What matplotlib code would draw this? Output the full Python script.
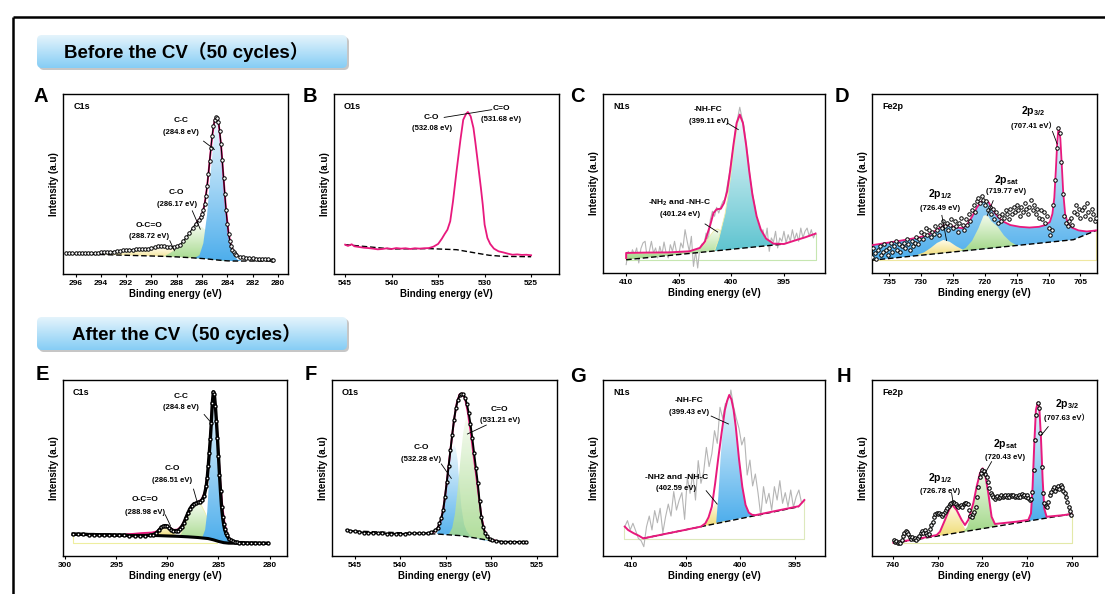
import numpy as np
import matplotlib
matplotlib.use("Agg")
import matplotlib.pyplot as plt
from matplotlib.patches import Polygon, FancyBboxPatch
from matplotlib.colors import LinearSegmentedColormap

plt.rcParams['font.family'] = ['Liberation Sans', 'Noto Sans CJK SC', 'DejaVu Sans']
plt.rcParams['mathtext.fontset'] = 'custom'
plt.rcParams['mathtext.rm'] = 'Liberation Sans:bold'
plt.rcParams['mathtext.bf'] = 'Liberation Sans:bold'
plt.rcParams['mathtext.it'] = 'Liberation Sans:bold'

# ---------------- data (binding energy in eV, intensity in a.u. 0-100) ----------------
# A  C1s before
a_x = [296.75, 296.5, 296.25, 296.0, 295.75, 295.5, 295.25, 295.0, 294.75, 294.5, 294.25, 294.0,
       293.75, 293.5, 293.25, 293.0, 292.75, 292.5, 292.25, 292.0, 291.75, 291.5, 291.25, 291.0,
       290.75, 290.5, 290.25, 290.0, 289.75, 289.5, 289.25, 289.0, 288.75, 288.5, 288.25, 288.0,
       287.75, 287.5, 287.25, 287.0, 286.75, 286.5, 286.25,
       286.1, 286.0, 285.9, 285.8, 285.7, 285.6, 285.5, 285.4, 285.3, 285.2, 285.1, 285.0, 284.9,
       284.8, 284.7, 284.6, 284.5, 284.4, 284.3, 284.2, 284.1, 284.0, 283.9, 283.8, 283.7, 283.6,
       283.5, 283.4, 283.3,
       283.0, 282.75, 282.5, 282.25, 282.0, 281.75, 281.5, 281.25, 281.0, 280.75, 280.5, 280.4]
a_y = [11.4, 11.4, 11.4, 11.4, 11.4, 11.4, 11.6, 11.6, 11.6, 11.8, 11.8, 12.0,
       12.0, 12.2, 12.4, 12.5, 12.7, 12.9, 13.1, 13.3, 13.5, 13.5, 13.7, 13.7,
       13.7, 13.8, 14.0, 14.4, 14.9, 15.3, 15.5, 15.3, 14.9, 14.8, 14.9, 15.5,
       16.2, 18.1, 20.3, 22.7, 25.5, 28.0, 29.9,
       31.7, 33.2, 35.4, 38.7, 43.4, 48.9, 55.4, 62.7, 70.1, 76.6, 82.1, 85.6, 87.1,
       86.7, 84.5, 79.3, 72.0, 63.1, 53.5, 44.3, 35.4, 28.0, 22.5, 18.5, 15.5, 13.5,
       12.2, 11.3, 10.7,
       9.6, 9.2, 9.0, 8.9, 8.7, 8.6, 8.5, 8.4, 8.3, 8.1, 7.9, 7.7]
a_env_x = [286.4, 286.2, 286.0, 285.8, 285.6, 285.4, 285.2, 285.0, 284.85, 284.7, 284.5, 284.3,
           284.1, 283.9, 283.7, 283.5, 283.2]
a_env_y = [28.8, 30.6, 33.0, 38.5, 48.5, 62.5, 76.5, 85.5, 87.2, 84.5, 72.0, 53.5,
           35.5, 22.5, 15.5, 12.2, 10.4]
a_base_x = [296.75, 294.0, 292.0, 290.0, 289.0, 288.0, 287.0, 286.0, 285.5, 285.0, 284.5, 284.0,
            283.5, 283.0, 282.0, 280.4]
a_base_y = [11.1, 10.8, 10.4, 10.0, 9.8, 9.5, 9.1, 8.6, 8.3, 7.9, 7.6, 7.3, 7.2, 7.2, 7.2, 7.2]
a_yel_x = [294.0, 293.0, 292.0, 291.0, 290.0, 289.0, 288.0, 287.0, 286.0, 285.0, 284.0, 283.0]
a_yel_y = [10.8, 11.3, 12.0, 12.9, 13.7, 14.2, 13.9, 13.0, 11.5, 9.4, 7.9, 7.2]
a_grn_x = [289.0, 288.5, 288.0, 287.5, 287.0, 286.6, 286.3, 286.0, 285.6, 285.2, 284.8, 284.4,
           284.0, 283.5, 283.0]
a_grn_y = [9.8, 11.8, 14.2, 18.0, 22.5, 25.6, 26.8, 26.2, 23.5, 19.5, 15.2, 11.8, 9.2, 7.6, 7.2]
a_blu_x = [286.6, 286.2, 285.9, 285.6, 285.4, 285.2, 285.0, 284.85, 284.7, 284.5, 284.3, 284.1,
           283.9, 283.7, 283.5, 283.2, 282.8]
a_blu_y = [8.8, 10.5, 17.0, 33.0, 50.0, 65.0, 80.0, 86.0, 84.5, 72.0, 53.0, 35.0,
           22.0, 14.5, 10.5, 8.0, 7.2]

# B  O1s before
b_x = [545.0, 544.7, 544.3, 544.0, 543.5, 543.0, 542.5, 542.0, 541.5, 541.0, 540.5, 540.0,
       539.5, 539.0, 538.5, 538.0, 537.5, 537.0, 536.5, 536.0, 535.5, 535.0, 534.6, 534.3,
       534.0, 533.7, 533.4, 533.0, 532.6, 532.3, 532.0, 531.8, 531.5, 531.2, 531.0, 530.7,
       530.4, 530.2, 530.0, 529.7, 529.4, 529.0, 528.5, 528.0, 527.5, 527.0, 526.5, 526.0,
       525.5, 525.0]
b_y = [16.3, 15.6, 16.5, 15.4, 15.0, 14.6, 14.4, 14.1, 13.7, 13.9, 14.3, 13.9,
       14.4, 14.1, 14.3, 13.9, 14.3, 14.1, 14.3, 14.4, 15.2, 16.7, 19.6, 22.2,
       24.6, 29.3, 40.4, 58.0, 74.6, 85.7, 88.9, 90.0, 87.6, 81.1, 73.3, 60.7,
       47.8, 38.5, 27.4, 20.0, 16.7, 14.1, 12.6, 12.0, 11.3, 10.7, 10.9, 10.6,
       10.7, 10.4]
b_base_x = [545.0, 540.0, 536.0, 533.0, 531.0, 529.5, 528.0, 525.0]
b_base_y = [16.3, 13.9, 14.1, 13.5, 11.7, 10.4, 9.8, 9.6]

# C  N1s before
c_raw_x = np.linspace(410.0, 392.0, 91)
c_raw_y = [4.7, 12.1, 8.4, 13.0, 10.2, 14.0, 5.6, 13.6, 16.8, 17.7,
           8.4, 12.1, 17.7, 11.2, 14.0, 8.4, 14.9, 10.2, 17.3, 11.2,
           8.4, 15.8, 12.1, 17.7, 11.2, 10.2, 16.8, 14.0, 24.2, 17.7,
           12.1, 20.5, 3.7, 12.1, 2.8, 14.0, 16.2, 15.8, 22.3, 17.7,
           29.8, 34.5, 31.7, 36.7, 33.5, 37.2, 40.0, 41.0, 48.4, 54.9,
           63.3, 70.8, 80.1, 86.6, 92.6, 87.0, 81.9, 72.6, 63.3, 52.1,
           44.7, 38.2, 30.7, 26.1, 18.6, 24.2, 17.7, 25.1, 12.1, 19.6,
           17.3, 23.3, 14.0, 19.6, 17.7, 23.3, 16.8, 21.4, 17.7, 24.2,
           18.6, 22.3, 17.7, 25.1, 19.6, 23.3, 25.1, 20.5, 24.2, 19.6, 22.3]
c_env_x = [410.0, 410.0, 408.0, 406.0, 404.0, 403.0, 402.5, 402.0, 401.7, 401.4, 401.0, 400.7,
           400.4, 400.1, 399.8, 399.5, 399.2, 398.9, 398.6, 398.3, 398.0, 397.6, 397.2, 396.7,
           396.0, 395.0, 394.0, 393.0, 392.0]
c_env_y = [8.4, 11.2, 11.4, 11.5, 12.1, 14.0, 17.7, 27.0, 33.5, 35.6, 35.9, 39.1,
           45.6, 57.7, 71.7, 83.8, 88.5, 83.8, 71.7, 56.8, 43.8, 31.7, 24.2, 19.2,
           16.4, 16.2, 18.1, 19.9, 22.0]
c_base_x = [410.0, 395.3]
c_base_y = [7.4, 16.0]
c_grn_x = [410.0, 410.0, 406.0, 404.0, 403.0, 402.5, 402.0, 401.6, 401.3, 401.0, 400.6, 400.2,
           399.8, 399.4]
c_grn_y = [7.4, 10.8, 11.2, 12.2, 13.8, 16.5, 21.0, 24.0, 24.6, 23.5, 20.0, 16.5, 14.5, 13.6]
c_tea_x = [401.6, 401.5, 401.2, 400.9, 400.6, 400.3, 400.0, 399.7, 399.4, 399.2, 398.9, 398.6,
           398.3, 398.0, 397.6, 397.2, 396.7, 396.0, 395.3]
c_tea_y = [12.3, 14.0, 19.0, 26.0, 33.0, 44.0, 57.0, 72.0, 84.0, 87.5, 83.5, 71.5,
           56.5, 43.5, 31.5, 24.0, 19.0, 16.3, 16.0]

# D  Fe2p before
d_x = np.linspace(738.0, 702.5, 143)
d_y = [12, 9, 14, 11, 8, 13, 15, 10, 12, 16, 13, 10, 14, 17, 12, 15, 18, 13, 16, 12,
       15, 17, 14, 19, 16, 13, 18, 15, 17, 20, 16, 19, 23, 19, 22, 25, 21, 24, 20, 23,
       22, 26, 24, 21, 27, 25, 29, 26, 28, 24, 27, 30, 25, 29, 26, 23, 28, 31, 27, 24,
       30, 27, 33, 29, 35, 38, 34, 40, 42, 39, 43, 41, 38, 40, 35, 37, 33, 36, 30, 34,
       28, 32, 29, 33, 31, 35, 33, 30, 36, 33, 37, 34, 38, 35, 32, 37, 34, 39, 36, 33,
       37, 41, 35, 38, 33, 36, 31, 35, 30, 34, 28, 32, 25, 21, 24, 38, 52, 70, 81, 78,
       62, 44, 32, 28, 26, 29, 31, 27, 34, 38, 33, 36, 31, 35, 37, 32, 39, 34, 30, 36,
       33, 29, 31]
d_env_x = [737.8, 736.0, 734.0, 732.0, 730.0, 728.5, 727.5, 726.5, 725.5, 724.5, 723.5, 722.8,
           722.0, 721.3, 720.6, 720.0, 719.4, 718.7, 718.0, 717.2, 716.0, 714.5, 713.0, 711.5,
           710.5, 709.8, 709.4, 709.1, 708.85, 708.65, 708.5, 708.35, 708.15, 707.95, 707.7,
           707.4, 707.0, 706.3, 705.3, 704.0, 702.5]
d_env_y = [15.5, 16.5, 17.6, 18.8, 20.2, 22.0, 24.2, 26.5, 26.6, 25.5, 25.0, 27.0,
           31.5, 36.3, 39.8, 40.4, 39.5, 35.0, 31.5, 28.9, 26.8, 25.8, 25.4, 25.8,
           26.8, 28.5, 33.0, 42.0, 58.0, 72.0, 79.0, 80.5, 75.0, 62.0, 45.0,
           33.0, 28.0, 25.3, 23.8, 23.2, 23.8]
d_base_x = [737.8, 706.1, 702.5]
d_base_y = [7.1, 18.6, 23.8]
d_yel_x = [731.0, 729.5, 728.5, 727.5, 726.5, 725.5, 724.5, 723.5, 722.5]
d_yel_y = [9.6, 11.6, 14.0, 16.8, 18.5, 17.4, 15.0, 13.1, 12.7]
d_grn_x = [724.0, 723.0, 722.0, 721.0, 720.2, 719.6, 719.0, 718.0, 717.0, 716.0, 715.0]
d_grn_y = [12.1, 14.0, 18.0, 25.0, 32.0, 32.5, 29.0, 26.0, 21.0, 17.5, 15.4]

# E  C1s after
e_x = [299.2, 298.7, 298.2, 297.7, 297.2, 296.7, 296.2, 295.7, 295.2, 294.7, 294.2, 293.7,
       293.2, 292.7, 292.2, 291.7, 291.4, 291.1, 290.8, 290.6, 290.4, 290.2, 290.0, 289.8,
       289.6, 289.4, 289.2, 289.0, 288.8, 288.6, 288.4, 288.2, 288.0, 287.8, 287.6, 287.4,
       287.2, 287.0, 286.8, 286.6, 286.4, 286.2, 286.1, 286.0, 285.9, 285.8, 285.7, 285.6,
       285.5, 285.4, 285.3, 285.2, 285.1, 285.0, 284.9, 284.8, 284.7, 284.6, 284.5, 284.4,
       284.3, 284.2, 284.0, 283.8, 283.6, 283.4, 283.2, 283.0, 282.6, 282.2, 281.8, 281.4,
       281.0, 280.6, 280.2]
e_y = [12.5, 12.4, 12.4, 12.2, 12.2, 12.0, 12.0, 12.0, 11.8, 11.8, 11.8, 11.6,
       11.6, 11.6, 11.6, 11.8, 12.2, 12.9, 14.8, 16.2, 16.9, 17.3, 16.9, 16.0,
       15.0, 14.4, 14.3, 14.4, 15.2, 16.7, 18.6, 21.5, 24.3, 26.8, 28.5, 29.7,
       30.0, 30.4, 30.8, 31.9, 34.2, 39.5, 44.3, 51.0, 58.6, 66.2, 75.7, 87.1,
       93.3, 91.8, 85.2, 76.6, 67.1, 56.7, 46.2, 36.7, 28.1, 22.4, 18.3, 15.2,
       13.3, 11.8, 9.9, 8.9, 8.4, 8.0, 7.8, 7.6, 7.6, 7.4, 7.4, 7.4,
       7.2, 7.2, 7.2]
e_env_x = [294.0, 292.5, 291.5, 291.0, 290.6, 290.2, 289.8, 289.4, 289.0, 288.6, 288.2, 287.8,
           287.4, 287.0, 286.6, 286.3, 286.0, 285.8, 285.65, 285.5, 285.35, 285.2, 285.0, 284.8,
           284.6, 284.4, 284.2, 284.0, 283.7, 283.3, 282.8, 282.0]
e_env_y = [12.2, 13.0, 13.3, 14.0, 16.0, 17.0, 16.2, 14.8, 15.0, 17.0, 21.5, 26.5,
           29.5, 30.5, 32.5, 37.0, 50.0, 66.0, 82.0, 92.5, 88.0, 77.0, 58.0, 40.0,
           27.0, 18.5, 13.5, 10.5, 8.6, 7.8, 7.5, 7.3]
e_base_x = [299.2, 294.0, 292.0, 291.0, 290.0, 289.0, 288.0, 287.0, 286.0, 285.5, 285.0, 284.5,
            284.0, 282.0, 280.2]
e_base_y = [12.3, 11.9, 11.7, 11.6, 11.4, 11.2, 10.9, 10.5, 9.9, 9.2, 8.3, 7.6, 7.3, 7.2, 7.2]
e_yel_x = [291.2, 290.8, 290.5, 290.2, 289.9, 289.6, 289.3, 289.0]
e_yel_y = [11.6, 14.0, 16.2, 17.0, 16.0, 14.2, 12.5, 11.2]
e_grn_x = [288.8, 288.4, 288.0, 287.6, 287.2, 286.9, 286.6, 286.3, 286.0, 285.6, 285.2, 284.8,
           284.5]
e_grn_y = [11.1, 16.0, 22.0, 27.5, 29.5, 30.0, 28.0, 24.5, 20.0, 15.0, 11.0, 8.6, 7.6]
e_blu_x = [286.6, 286.3, 286.1, 285.9, 285.7, 285.55, 285.45, 285.3, 285.1, 284.9, 284.7, 284.5,
           284.3, 284.0, 283.6]
e_blu_y = [10.2, 15.0, 25.0, 45.0, 70.0, 90.0, 93.0, 87.0, 70.0, 50.0, 32.0, 20.0,
           13.0, 9.0, 7.2]

# F  O1s after
f_x = [545.9, 545.5, 545.0, 544.5, 544.0, 543.5, 543.0, 542.5, 542.0, 541.5, 541.0, 540.5,
       540.0, 539.5, 539.0, 538.5, 538.0, 537.5, 537.0, 536.6, 536.2, 535.9,
       535.7, 535.5, 535.3, 535.1, 534.9, 534.7, 534.5, 534.3, 534.1, 533.9, 533.7, 533.5,
       533.3, 533.1, 532.9, 532.7, 532.5, 532.3, 532.1, 531.9, 531.7, 531.5, 531.3, 531.1,
       530.9, 530.7, 530.5, 530.2, 529.9, 529.5, 529.0, 528.5, 528.0, 527.5, 527.0, 526.5, 526.2]
f_y = [14.8, 14.4, 14.0, 13.6, 13.3, 13.2, 13.0, 12.9, 12.8, 12.7, 12.6, 12.6,
       12.5, 12.6, 12.8, 12.9, 12.8, 12.9, 13.0, 13.5, 14.5, 16.0,
       18.5, 21.5, 26.0, 33.5, 42.0, 51.0, 60.0, 69.0, 77.5, 84.0, 88.5, 91.2,
       92.3, 92.0, 90.0, 86.5, 81.5, 75.0, 67.0, 58.5, 50.0, 41.5, 31.0, 22.0,
       16.5, 13.0, 11.2, 9.8, 9.0, 8.5, 8.2, 8.0, 8.1, 7.9, 8.0, 8.1, 8.0]
f_env_x = [536.5, 536.0, 535.6, 535.3, 535.0, 534.7, 534.4, 534.1, 533.8, 533.5, 533.2, 532.9,
           532.6, 532.3, 532.0, 531.7, 531.4, 531.1, 530.8, 530.5, 530.1, 529.5]
f_env_y = [13.2, 14.8, 19.5, 26.0, 37.5, 51.0, 64.5, 77.5, 87.0, 91.8, 92.3, 89.5,
           82.0, 71.5, 59.0, 47.0, 34.5, 22.5, 15.0, 11.5, 9.5, 8.6]
f_base_x = [545.9, 540.0, 536.0, 533.5, 531.5, 530.0, 528.5, 526.2]
f_base_y = [14.4, 13.2, 12.5, 11.6, 10.0, 8.6, 8.0, 8.0]
f_blu_x = [536.0, 535.6, 535.3, 535.0, 534.7, 534.4, 534.1, 533.9, 533.7, 533.5, 533.3, 533.0,
           532.7, 532.3, 531.8, 531.0, 530.0, 529.0]
f_blu_y = [12.5, 18.0, 24.5, 37.0, 51.0, 60.0, 63.0, 61.0, 54.0, 40.0, 28.0, 18.0,
           14.0, 11.5, 10.2, 9.0, 8.6, 8.2]
f_grn_x = [534.8, 534.6, 534.3, 534.0, 533.7, 533.4, 533.1, 532.85, 532.6, 532.3, 532.0, 531.7,
           531.4, 531.1, 530.8, 530.5, 530.2, 529.8]
f_grn_y = [12.1, 13.0, 16.0, 24.0, 38.0, 55.0, 70.0, 77.0, 78.0, 74.0, 63.0, 49.5,
           36.0, 24.0, 16.0, 12.0, 10.0, 8.5]

# G  N1s after
g_x = np.linspace(410.6, 394.1, 67)
g_y = [16.7, 20.1, 14.8, 18.6, 14.4, 10.0, 8.7, 5.3, 16.7, 22.7,
       14.8, 25.8, 18.9, 27.1, 13.3, 22.3, 29.5, 22.7, 36.6, 26.1,
       31.8, 36.0, 20.8, 44.7, 35.6, 47.0, 31.8, 54.2, 41.3, 47.9,
       61.7, 50.8, 58.0, 71.2, 64.0, 84.5, 78.2, 86.7, 83.0, 94.3,
       84.8, 78.2, 72.5, 63.1, 67.4, 46.0, 54.5, 39.8, 46.6, 35.6,
       22.7, 39.4, 29.9, 35.6, 26.1, 39.4, 31.8, 42.8, 29.9, 36.0,
       28.0, 37.5, 27.7, 33.7, 37.5, 29.9, 31.4]
g_env_x = [410.6, 410.3, 409.8, 409.3, 408.9, 407.0, 405.0, 403.6, 403.2, 402.9, 402.6, 402.3,
           402.0, 401.7, 401.4, 401.2, 401.0, 400.8, 400.6, 400.4, 400.1, 399.8, 399.5, 399.2,
           398.9, 398.6, 396.5, 394.6, 394.1]
g_env_y = [16.7, 14.8, 13.0, 11.5, 10.0, 12.4, 14.9, 16.7, 18.5, 22.0, 28.0, 41.0,
           56.0, 70.0, 83.0, 88.0, 91.5, 89.0, 83.0, 73.5, 55.0, 39.4, 29.0, 24.6,
           23.4, 23.2, 25.9, 28.3, 31.8]
g_base_x = [408.9, 394.6]
g_base_y = [10.0, 28.0]
g_yel_x = [403.4, 403.2, 402.9, 402.6, 402.3, 402.0, 401.7, 401.4, 401.2]
g_yel_y = [16.9, 18.5, 21.0, 26.0, 30.0, 30.5, 27.0, 22.0, 19.6]
g_blu_x = [402.2, 402.0, 401.8, 401.6, 401.4, 401.2, 401.0, 400.8, 400.6, 400.4, 400.1, 399.8,
           399.5, 399.2, 398.9, 398.6]
g_blu_y = [18.9, 34.0, 55.0, 71.0, 82.0, 88.0, 91.5, 89.0, 83.0, 73.5, 55.0, 39.4,
           29.0, 24.6, 23.4, 23.0]

# H  Fe2p after
h_x = np.linspace(739.8, 700.2, 133)
h_y = [9.1, 8.0, 8.7, 7.6, 8.1, 7.4, 9.1, 11.4, 13.3, 14.4,
       13.8, 12.5, 11.0, 9.8, 10.6, 9.5, 10.0, 9.1, 10.2, 11.4,
       12.9, 14.0, 13.3, 14.8, 12.9, 11.7, 12.5, 15.2, 17.4, 19.5,
       22.3, 23.9, 24.6, 24.1, 24.6, 23.7, 22.7, 23.9, 25.2, 26.1,
       27.1, 28.4, 29.5, 30.3, 30.9, 30.3, 29.5, 28.6, 27.7, 28.4,
       29.0, 28.0, 29.4, 29.9, 30.3, 29.5, 26.1, 22.7, 22.0, 23.9,
       25.2, 28.0, 33.7, 39.4, 45.1, 47.3, 48.9, 48.3, 46.6, 44.7,
       42.2, 38.4, 36.0, 34.7, 33.3, 32.2, 33.3, 34.1, 32.8, 33.7,
       34.7, 33.3, 34.1, 34.8, 33.7, 34.5, 33.5, 34.7, 33.9, 34.8,
       33.7, 34.3, 33.3, 34.5, 33.7, 35.0, 34.1, 34.8, 33.3, 34.5,
       32.9, 31.8, 32.2, 36.6, 48.9, 65.9, 80.1, 87.1, 83.9, 69.7,
       50.8, 35.6, 30.3, 28.4, 27.7, 30.9, 34.7, 36.6, 37.9, 39.4,
       37.1, 38.6, 39.8, 38.3, 40.3, 39.0, 36.9, 35.6, 33.3, 30.9,
       28.0, 25.8, 23.3]
h_env_x = [739.85, 734.66, 730.2, 729.47, 728.35, 727.6, 726.87, 725.76, 724.64, 723.9,
           723.16, 722.05, 721.3, 720.56, 719.97, 719.45, 718.7, 717.97, 717.23, 712.4,
           709.8, 709.2, 708.84, 708.46, 708.1, 707.7, 707.36, 706.99, 706.6, 706.25,
           705.73, 702.0, 700.16]
h_env_y = [7.6, 9.6, 11.9, 13.8, 20.5, 25.2, 29.5, 26.1, 20.5, 17.6,
           20.5, 29.9, 39.4, 47.0, 49.8, 47.0, 35.6, 22.3, 18.2, 19.5,
           20.5, 24.2, 39.4, 64.0, 83.0, 87.1, 84.8, 67.8, 43.2, 27.1,
           22.3, 23.2, 23.9]
h_base_x = [739.85, 700.16]
h_base_y = [7.2, 23.9]
h_yel_x = [730.4, 729.3, 728.5, 727.7, 726.9, 726.1, 725.3, 724.5, 723.6]
h_yel_y = [11.2, 14.5, 20.0, 25.5, 29.0, 27.5, 23.0, 18.5, 14.0]
h_grn_x = [724.3, 723.4, 722.6, 721.8, 721.0, 720.3, 719.8, 719.2, 718.6, 718.0, 717.3, 716.5]
h_grn_y = [13.7, 16.5, 23.0, 32.0, 42.0, 48.5, 49.5, 44.0, 33.0, 23.0, 18.5, 17.0]
h_blu_x = [709.8, 709.2, 708.85, 708.45, 708.1, 707.7, 707.35, 707.0, 706.6, 706.25, 705.9, 705.5]
h_blu_y = [19.9, 24.0, 39.0, 64.0, 83.0, 87.0, 84.5, 68.0, 43.0, 27.0, 22.5, 21.7]

# ---------------- styling ----------------
PINK = '#e8197d'
BLUE = ('#eef8fd', '#4eaeec')
GREEN = ('#f4fbee', '#a3d88a')
YELLOW = ('#fffbe8', '#f0dc78')
TEAL = ('#f0fafb', '#5fc4d0')

W, H = 1105, 594
fig = plt.figure(figsize=(W / 100, H / 100), dpi=100)

over = fig.add_axes([0, 0, 1, 1])
over.set_xlim(0, W)
over.set_ylim(H, 0)
over.axis('off')
over.plot([13, 13], [16.5, H], color='k', lw=1.8, solid_capstyle='butt')
over.plot([13, W], [16.5, 16.5], color='k', lw=1.8, solid_capstyle='butt')

bcmap = LinearSegmentedColormap.from_list('banner', ['#e4f4fc', '#86cdf5'])
for top, txt in [(35, 'Before the CV（50 cycles）'), (317, 'After the CV（50 cycles）')]:
    sh = FancyBboxPatch((39, top + 2), 310, 33, boxstyle='round,pad=0,rounding_size=5',
                        fc='#a0a0a0', ec='none', alpha=0.6, zorder=1)
    over.add_patch(sh)
    bx = FancyBboxPatch((37, top), 310, 33, boxstyle='round,pad=0,rounding_size=5',
                        fc='none', ec='none', zorder=2)
    over.add_patch(bx)
    im = over.imshow(np.linspace(0, 1, 64)[:, None], cmap=bcmap, aspect='auto',
                     extent=(37, 347, top + 33, top), origin='upper', zorder=3)
    im.set_clip_path(bx)
    over.text(186, top + 16.5, txt, ha='center', va='center', fontsize=13.5,
              fontweight='bold', zorder=4)

for lt, (lx, ly) in zip('ABCDEFGH', [(41, 97), (310, 97), (577, 97), (842, 97),
                                      (42, 374), (311, 375), (578, 376), (844, 376)]):
    over.text(lx, ly, lt, ha='center', va='center', fontsize=14.5, fontweight='bold')
over.set_xlim(0, W)
over.set_ylim(H, 0)


def add_ax(l, t, r, b):
    return fig.add_axes([l / W, 1 - b / H, (r - l) / W, (b - t) / H])


def comp(ax, cx, cy, bx, by, cols, edge=None, z=2, alpha=1.0):
    cx, cy, bx, by = map(np.asarray, (cx, cy, bx, by))
    lo, hi = cx.min(), cx.max()
    sel = (bx >= lo) & (bx <= hi)
    px = np.concatenate([cx, bx[sel][::-1]])
    py = np.concatenate([cy, by[sel][::-1]])
    poly = Polygon(np.column_stack([px, py]), closed=True, fc='none', ec='none')
    ax.add_patch(poly)
    cmap = LinearSegmentedColormap.from_list('c', list(cols))
    im = ax.imshow(np.linspace(0, 1, 128)[:, None], cmap=cmap, aspect='auto',
                   extent=(lo, hi, py.min(), py.max()), origin='upper', zorder=z, alpha=alpha)
    im.set_clip_path(poly)
    if edge:
        ax.plot(cx, cy, color=edge, lw=0.6, zorder=z + 0.1)


def setup(ax, xlim, ticks, name):
    ax.set_xlim(*xlim)
    ax.set_ylim(0, 100)
    ax.set_xticks(ticks)
    ax.set_yticks([])
    ax.tick_params(axis='x', direction='out', length=2.5, width=0.8, labelsize=6, pad=1.5)
    for lab in ax.get_xticklabels():
        lab.set_fontweight('bold')
    for s in ax.spines.values():
        s.set_linewidth(1.0)
    ax.set_xlabel('Binding energy (eV)', fontsize=7, fontweight='bold', labelpad=2)
    ax.set_ylabel('Intensity (a.u)', fontsize=7, fontweight='bold', labelpad=3)
    ax.text(0.045, 0.93, name, transform=ax.transAxes, fontsize=6.5, fontweight='bold',
            va='center', ha='left')


def label(ax, x, y1, y2, name, value, size=6.0, vsize=5.5):
    ax.text(x, y1, name, ha='center', va='center', fontsize=size, fontweight='bold', zorder=6)
    ax.text(x, y2, value, ha='center', va='center', fontsize=vsize, fontweight='bold', zorder=6)


def leader(ax, x1, y1, x2, y2):
    ax.plot([x1, x2], [y1, y2], color='k', lw=0.6, zorder=6)


def circles(ax, x, y, ms=2.4, mew=0.7, line=None, z=4):
    if line:
        ax.plot(x, y, '-', color='k', lw=line, zorder=z - 0.1)
    ax.plot(x, y, 'o', ms=ms, mfc='white', mec='k', mew=mew, ls='none', zorder=z)


# ---------------- A ----------------
ax = add_ax(63, 94, 288, 274)
comp(ax, a_yel_x, a_yel_y, a_base_x, a_base_y, YELLOW, z=2)
comp(ax, a_grn_x, a_grn_y, a_base_x, a_base_y, GREEN, z=2.2)
comp(ax, a_blu_x, a_blu_y, a_base_x, a_base_y, BLUE, z=2.4)
ax.plot(a_base_x, a_base_y, '--', color='k', lw=1.0, dashes=(4, 2), zorder=3)
ax.plot(a_env_x, a_env_y, color=PINK, lw=1.4, zorder=3.5)
circles(ax, a_x, a_y, ms=2.5, mew=0.7, line=0.8)
label(ax, 287.66, 85.4, 78.4, 'C-C', '(284.8 eV)')
leader(ax, 285.88, 73.8, 285.02, 69.2)
label(ax, 288.0, 45.2, 38.4, 'C-O', '(286.17 eV)')
leader(ax, 286.77, 35.1, 286.14, 24.9)
label(ax, 290.2, 26.8, 20.7, 'O-C=O', '(288.72 eV)')
leader(ax, 288.55, 18.5, 288.18, 12.9)
setup(ax, (297.0, 279.2), [296, 294, 292, 290, 288, 286, 284, 282, 280], 'C1s')

# ---------------- B ----------------
ax = add_ax(334, 94, 559, 274)
ax.plot(b_base_x, b_base_y, '--', color='k', lw=1.0, dashes=(4, 2), zorder=3)
ax.plot(b_x, b_y, color=PINK, lw=1.3, zorder=4)
label(ax, 535.68, 86.7, 80.6, 'C-O', '(532.08 eV)')
label(ax, 528.2, 91.9, 85.7, 'C=O', '(531.68 eV)')
leader(ax, 534.35, 87.0, 529.23, 91.3)
setup(ax, (546.2, 522.0), [545, 540, 535, 530, 525], 'O1s')

# ---------------- C ----------------
ax = add_ax(603, 94, 825, 273)
ax.plot([410.0, 392.0, 392.0], [7.4, 7.4, 22.0], color='#c6e6b0', lw=0.8, zorder=1.5)
ax.plot(c_raw_x, c_raw_y, color='#b5b5b5', lw=0.8, zorder=1.8)
comp(ax, c_grn_x, c_grn_y, c_base_x, c_base_y, GREEN, edge='#eeeea8', z=2)
comp(ax, c_tea_x, c_tea_y, c_base_x, c_base_y, TEAL, edge='#eeeea8', z=2.2)
ax.plot(c_base_x, c_base_y, '--', color='k', lw=1.0, dashes=(4, 2), zorder=3)
ax.plot(c_env_x, c_env_y, color=PINK, lw=1.4, zorder=4)
label(ax, 402.18, 91.2, 84.7, '-NH-FC', '(399.11 eV)')
leader(ax, 400.38, 83.8, 399.34, 80.1)
label(ax, 404.87, 39.1, 32.6, '-NH$_2$ and -NH-C', '(401.24 eV)')
leader(ax, 402.5, 27.4, 401.3, 22.9)
setup(ax, (412.2, 391.1), [410, 405, 400, 395], 'N1s')

# ---------------- D ----------------
ax = add_ax(872, 94, 1097, 273)
ax.plot([737.8, 702.6, 702.6], [7.4, 7.4, 23.8], color='#efe7a0', lw=0.8, zorder=1.5)
comp(ax, d_env_x, d_env_y, d_base_x, d_base_y, BLUE, z=2)
comp(ax, d_yel_x, d_yel_y, d_base_x, d_base_y, YELLOW, z=2.2)
comp(ax, d_grn_x, d_grn_y, d_base_x, d_base_y, GREEN, z=2.3)
ax.plot(d_base_x, d_base_y, '--', color='k', lw=1.0, dashes=(4, 2), zorder=3)
ax.plot(d_env_x, d_env_y, color=PINK, lw=1.3, zorder=3.5)
circles(ax, d_x, d_y, ms=2.5, mew=0.7)
label(ax, 712.42, 90.7, 82.5, '2p$_{3/2}$', '(707.41 eV）', size=7.5)
leader(ax, 709.39, 79.1, 708.65, 72.1)
label(ax, 716.6, 52.1, 45.3, '2p$_{sat}$', '(719.77 eV)', size=7.5)
leader(ax, 718.69, 40.4, 719.63, 32.0)
label(ax, 727.05, 44.1, 36.3, '2p$_{1/2}$', '(726.49 eV)', size=7.5)
leader(ax, 726.74, 32.2, 726.0, 18.1)
setup(ax, (737.7, 702.4), [735, 730, 725, 720, 715, 710, 705], 'Fe2p')

# ---------------- E ----------------
ax = add_ax(63, 380, 287, 556)
ax.plot([299.2, 299.2, 285.1], [12.3, 7.5, 7.5], color='#eeeea0', lw=0.8, zorder=1.5)
comp(ax, e_yel_x, e_yel_y, e_base_x, e_base_y, YELLOW, edge='#eeeea8', z=2)
comp(ax, e_grn_x, e_grn_y, e_base_x, e_base_y, GREEN, edge='#eeeea8', z=2.2)
comp(ax, e_blu_x, e_blu_y, e_base_x, e_base_y, BLUE, z=2.4)
ax.plot(e_base_x, e_base_y, '-', color='k', lw=2.2, zorder=3)
ax.plot(e_env_x, e_env_y, color=PINK, lw=1.4, zorder=3.5)
circles(ax, e_x, e_y, ms=2.2, mew=1.0, line=2.4)
label(ax, 288.68, 90.5, 84.2, 'C-C', '(284.8 eV)')
leader(ax, 286.4, 80.4, 285.71, 75.7)
label(ax, 289.56, 50.0, 43.0, 'C-O', '(286.51 eV)')
leader(ax, 287.44, 38.0, 287.05, 30.0)
label(ax, 292.17, 31.9, 24.7, 'O-C=O', '(288.98 eV)')
leader(ax, 290.2, 23.4, 289.7, 17.3)
setup(ax, (300.2, 278.3), [300, 295, 290, 285, 280], 'C1s')

# ---------------- F ----------------
ax = add_ax(332, 380, 557, 556)
comp(ax, f_blu_x, f_blu_y, f_base_x, f_base_y, BLUE, z=2)
comp(ax, f_grn_x, f_grn_y, f_base_x, f_base_y, GREEN, z=2.2, alpha=0.85)
ax.plot(f_base_x, f_base_y, '--', color='k', lw=1.0, dashes=(4, 2), zorder=3)
ax.plot(f_env_x, f_env_y, color=PINK, lw=1.4, zorder=3.5)
circles(ax, f_x, f_y, ms=2.2, mew=0.9, line=1.4)
label(ax, 529.1, 83.3, 76.9, 'C=O', '(531.21 eV)')
leader(ax, 530.56, 74.4, 532.64, 69.3)
label(ax, 537.69, 61.7, 55.1, 'C-O', '(532.28 eV)')
leader(ax, 535.5, 52.3, 534.4, 44.1)
setup(ax, (547.5, 522.8), [545, 540, 535, 530, 525], 'O1s')

# ---------------- G ----------------
ax = add_ax(603, 380, 825, 556)
ax.plot([410.7, 410.7, 394.1, 394.1], [16.7, 9.7, 9.7, 31.8], color='#dde9bd', lw=0.8, zorder=1.5)
ax.plot(g_x, g_y, color='#b5b5b5', lw=0.8, zorder=1.8)
comp(ax, g_yel_x, g_yel_y, g_base_x, g_base_y, YELLOW, z=2)
comp(ax, g_blu_x, g_blu_y, g_base_x, g_base_y, BLUE, z=2.2)
ax.plot(g_base_x, g_base_y, '--', color='k', lw=1.0, dashes=(4, 2), zorder=3)
ax.plot(g_env_x, g_env_y, color=PINK, lw=1.4, zorder=4)
label(ax, 404.65, 88.3, 81.4, '-NH-FC', '(399.43 eV)')
leader(ax, 402.66, 79.5, 401.07, 75.0)
label(ax, 405.87, 44.7, 38.4, '-NH2 and -NH-C', '(402.59 eV)')
leader(ax, 403.12, 37.1, 402.11, 29.5)
setup(ax, (412.6, 392.2), [410, 405, 400, 395], 'N1s')

# ---------------- H ----------------
ax = add_ax(872, 380, 1097, 556)
ax.plot([739.85, 700.16, 700.16], [7.2, 7.2, 23.9], color='#e3e9a8', lw=0.8, zorder=1.5)
comp(ax, h_yel_x, h_yel_y, h_base_x, h_base_y, YELLOW, z=2)
comp(ax, h_grn_x, h_grn_y, h_base_x, h_base_y, GREEN, z=2.2)
comp(ax, h_blu_x, h_blu_y, h_base_x, h_base_y, BLUE, z=2.4)
ax.plot(h_base_x, h_base_y, '--', color='k', lw=1.0, dashes=(4, 2), zorder=3)
ax.plot(h_env_x, h_env_y, color=PINK, lw=1.4, zorder=3.5)
circles(ax, h_x, h_y, ms=2.5, mew=0.8)
label(ax, 701.28, 86.4, 78.8, '2p$_{3/2}$', '(707.63 eV）', size=7.5)
leader(ax, 705.36, 73.5, 706.84, 68.8)
label(ax, 715.0, 63.4, 56.1, '2p$_{sat}$', '(720.43 eV)', size=7.5)
leader(ax, 717.97, 53.6, 719.67, 46.0)
label(ax, 729.47, 44.1, 36.6, '2p$_{1/2}$', '(726.78 eV)', size=7.5)
leader(ax, 726.87, 35.6, 726.5, 29.9)
setup(ax, (744.6, 694.5), [740, 730, 720, 710, 700], 'Fe2p')

fig.savefig('out.png', dpi=100)
